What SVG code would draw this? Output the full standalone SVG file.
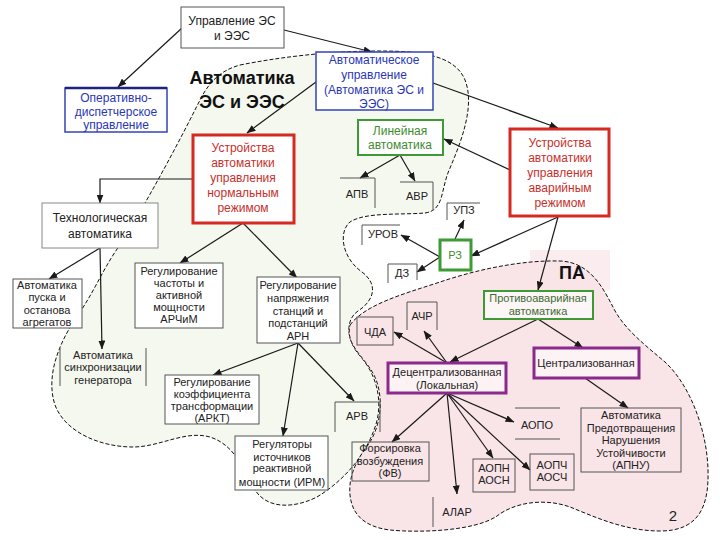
<svg xmlns="http://www.w3.org/2000/svg" width="720" height="540" viewBox="0 0 720 540">
<defs>
<marker id="ah" markerUnits="userSpaceOnUse" markerWidth="9" markerHeight="7" refX="8.5" refY="3.5" orient="auto"><path d="M0,0 L9,3.5 L0,7 z" fill="#1a1a1a"/></marker>
<style>
.t{font-family:"Liberation Sans",Arial,sans-serif;font-size:11px;fill:#222;text-anchor:middle}
.t12{font-size:12px}
.red{fill:#c8302c}.blue{fill:#2a36b8}.green{fill:#3d8b2f}.dgreen{fill:#3f6b35}
.ttl{font-family:"Liberation Sans",Arial,sans-serif;font-size:18px;font-weight:bold;fill:#111;text-anchor:middle}
.box{fill:#fff;stroke:#555;stroke-width:1}
.boxn{fill:none;stroke:#555;stroke-width:1}
.part{fill:none;stroke:#555;stroke-width:1}
.redbox{fill:#fff;stroke:#d42a22;stroke-width:3}
.bluebox{fill:#fff;stroke:#3343b5;stroke-width:1.5}
.greenbox{fill:#fff;stroke:#3d9a35;stroke-width:2}
.greenthick{fill:#fff;stroke:#3d9a35;stroke-width:3}
.purplebox{fill:#fdf3f5;stroke:#8a2a8a;stroke-width:3}
.blob{stroke:#111;stroke-width:1;stroke-dasharray:4 2}
.c{fill:none;stroke:#1a1a1a;stroke-width:1.2;marker-end:url(#ah)}
</style>
</defs>
<rect width="720" height="540" fill="#fff"/>
<g id="regions">
<rect x="530" y="250" width="80" height="40" fill="#fbecef"/>
<path id="blob-es" class="blob" fill="#f4f8ef" d="M240,65 C280,57 330,51 380,51 C420,51 455,55 465,80 C475,105 462,140 450,168 C440,190 445,210 425,213 C400,215 365,212 350,222 C338,232 342,258 362,272 C378,284 375,300 358,311 C345,320 346,340 360,356 C378,376 384,405 374,430 C365,455 345,480 317,497 C295,508 268,510 255,490 C244,470 235,445 210,437 C185,430 160,447 133,447 C100,447 65,432 55,405 C45,375 60,340 80,312 C95,290 105,265 120,245 C145,205 175,150 200,100 C210,80 222,70 240,65 Z"/>
<path id="blob-pa" class="blob" fill="#f9e4e8" d="M350,325 C365,305 400,295 437,283 C475,270 520,260 560,261 C590,262 603,288 613,307 C623,328 645,345 665,362 C690,385 707,430 708,470 C709,505 700,531 660,531 C625,531 595,517 570,507 C545,498 515,502 497,516 C475,531 420,533 390,530 C365,527 352,515 350,495 C348,475 358,458 368,445 C382,425 384,395 374,375 C364,356 345,345 350,325 Z"/>
</g>
<g id="connectors">
<path class="c" d="M182,28 L118,87"/>
<path class="c" d="M284,30 L372,52"/>
<path class="c" d="M433,83 L558,128"/>
<path class="c" d="M316,82 L247,133"/>
<path class="c" d="M510,170 L444,139"/>
<path class="c" d="M400,155 L360,178"/>
<path class="c" d="M400,155 L415,181"/>
<path class="c" d="M558,217 L471,256"/>
<path class="c" d="M558,217 L538,290"/>
<path class="c" d="M455,239 L464,220"/>
<path class="c" d="M440,257 L401,235"/>
<path class="c" d="M440,257 L417,272"/>
<path class="c" d="M193,179 H100 V203"/>
<path class="c" d="M243,223 L180,263"/>
<path class="c" d="M243,223 L297,278"/>
<path class="c" d="M100,248 L49,279"/>
<path class="c" d="M100,248 L102,349"/>
<path class="c" d="M298,343 L213,375"/>
<path class="c" d="M298,343 L283,436"/>
<path class="c" d="M298,343 L354,401"/>
<path class="c" d="M538,319 L450,362"/>
<path class="c" d="M538,319 L583,348"/>
<path class="c" d="M447,363 L394,332"/>
<path class="c" d="M447,363 L424,331"/>
<path class="c" d="M447,393 L392,442"/>
<path class="c" d="M447,393 L457,494"/>
<path class="c" d="M447,393 L493,458"/>
<path class="c" d="M447,393 L530,470"/>
<path class="c" d="M447,393 L514,422"/>
<path class="c" d="M585,378 L628,408"/>
</g>
<g id="title-es"><text class="ttl" x="242" y="84">Автоматика</text><text class="ttl" x="242" y="108">ЭС и ЭЭС</text></g>
<g id="title-pa"><text class="ttl" x="572" y="279">ПА</text></g>
<g id="n-upr"><rect class="box" x="181" y="7" width="103" height="41"/><text class="t t12" x="232" y="25">Управление ЭС</text><text class="t t12" x="232" y="40">и ЭЭС</text></g>
<g id="n-odu"><rect class="bluebox" x="65" y="88" width="102" height="44"/><path d="M65,88 H167" stroke="#1c2380" stroke-width="2.5"/><text class="t t12 blue" x="116" y="102">Оперативно-</text><text class="t t12 blue" x="116" y="116">диспетчерское</text><text class="t t12 blue" x="116" y="129">управление</text></g>
<g id="n-au"><rect class="bluebox" x="316" y="52" width="117" height="58"/><text class="t t12 blue" x="374" y="64">Автоматическое</text><text class="t t12 blue" x="374" y="79">управление</text><text class="t t12 blue" x="374" y="94">(Автоматика ЭС и</text><text class="t t12 blue" x="374" y="108">ЭЭС)</text></g>
<g id="n-norm"><rect class="redbox" x="193" y="135" width="101" height="88"/><text class="t t12 red" x="243" y="152">Устройства</text><text class="t t12 red" x="243" y="167">автоматики</text><text class="t t12 red" x="243" y="182">управления</text><text class="t t12 red" x="243" y="197">нормальным</text><text class="t t12 red" x="243" y="212">режимом</text></g>
<g id="n-lin"><rect class="greenbox" x="358" y="120" width="85" height="35"/><text class="t t12 green" x="400" y="135">Линейная</text><text class="t t12 green" x="400" y="149">автоматика</text></g>
<g id="n-avar"><rect class="redbox" x="510" y="129" width="99" height="87"/><text class="t t12 red" x="560" y="147">Устройства</text><text class="t t12 red" x="560" y="162">автоматики</text><text class="t t12 red" x="560" y="177">управления</text><text class="t t12 red" x="560" y="192">аварийным</text><text class="t t12 red" x="560" y="207">режимом</text></g>
<g id="n-apv"><path class="part" d="M340,178 H375 V208"/><text class="t" x="357" y="198">АПВ</text></g>
<g id="n-avr"><path class="part" d="M400,182 H433 V210"/><text class="t" x="417" y="200">АВР</text></g>
<g id="n-upz"><path class="part" d="M447,220 V203 H480"/><text class="t" x="464" y="214">УПЗ</text></g>
<g id="n-rz"><rect class="greenthick" x="440" y="240" width="31" height="30"/><text class="t green" x="455" y="259">РЗ</text></g>
<g id="n-urov"><path class="part" d="M362,245 V225 H400"/><text class="t" x="383" y="238">УРОВ</text></g>
<g id="n-dz"><path class="part" d="M388,283 V264 H417 V280"/><text class="t" x="402" y="277">ДЗ</text></g>
<g id="n-pa"><rect class="greenbox" x="484" y="291" width="109" height="28" style="fill:#fdf6f7"/><text class="t dgreen" x="538" y="302">Противоаварийная</text><text class="t dgreen" x="538" y="315">автоматика</text></g>
<g id="n-tech"><rect class="box" x="42" y="203" width="116" height="45" style="stroke:#888"/><text class="t t12" x="100" y="222">Технологическая</text><text class="t t12" x="100" y="238">автоматика</text></g>
<g id="n-pusk"><rect class="box" x="13" y="279" width="69" height="49"/><text class="t" x="47" y="289">Автоматика</text><text class="t" x="47" y="301">пуска и</text><text class="t" x="47" y="314">останова</text><text class="t" x="47" y="326">агрегатов</text></g>
<g id="n-sinh"><path class="part" d="M60,348 V386 M146,348 V386"/><text class="t" x="103" y="359">Автоматика</text><text class="t" x="103" y="371">синхронизации</text><text class="t" x="103" y="384">генератора</text></g>
<g id="n-arch"><rect class="box" x="135" y="263" width="88" height="65"/><text class="t" x="179" y="275">Регулирование</text><text class="t" x="179" y="287">частоты и</text><text class="t" x="179" y="299">активной</text><text class="t" x="179" y="311">мощности</text><text class="t" x="179" y="323">АРЧиМ</text></g>
<g id="n-arn"><rect class="box" x="257" y="277" width="83" height="66"/><text class="t" x="298" y="289">Регулирование</text><text class="t" x="298" y="302">напряжения</text><text class="t" x="298" y="315">станций и</text><text class="t" x="298" y="327">подстанций</text><text class="t" x="298" y="340">АРН</text></g>
<g id="n-arkt"><rect class="box" x="165" y="375" width="94" height="49"/><text class="t" x="212" y="386">Регулирование</text><text class="t" x="212" y="398">коэффициента</text><text class="t" x="212" y="410">трансформации</text><text class="t" x="212" y="422">(АРКТ)</text></g>
<g id="n-arv"><path class="part" d="M335,432 V402 H380 V432"/><text class="t" x="357" y="420">АРВ</text></g>
<g id="n-irm"><rect class="box" x="235" y="436" width="93" height="54"/><text class="t" x="282" y="448">Регуляторы</text><text class="t" x="282" y="461">источников</text><text class="t" x="282" y="472">реактивной</text><text class="t" x="282" y="486">мощности (ИРМ)</text></g>
<g id="n-chda"><rect class="boxn" x="357" y="317" width="36" height="28"/><text class="t" x="375" y="336">ЧДА</text></g>
<g id="n-achr"><path class="part" d="M407,330 V302 H437 V330"/><text class="t" x="422" y="320">АЧР</text></g>
<g id="n-dec"><rect class="purplebox" x="388" y="363" width="118" height="30"/><text class="t" x="447" y="376">Децентрализованная</text><text class="t" x="447" y="389">(Локальная)</text></g>
<g id="n-cen"><rect class="purplebox" x="534" y="348" width="105" height="30"/><text class="t" x="586" y="367">Централизованная</text></g>
<g id="n-aopo"><path class="part" d="M515,408 H560 M515,439 H560"/><text class="t" x="537" y="429">АОПО</text></g>
<g id="n-apnu"><rect class="boxn" x="581" y="408" width="100" height="64"/><text class="t" x="631" y="419">Автоматика</text><text class="t" x="631" y="432">Предотвращения</text><text class="t" x="631" y="444">Нарушения</text><text class="t" x="631" y="457">Устойчивости</text><text class="t" x="631" y="469">(АПНУ)</text></g>
<g id="n-fv"><rect class="boxn" x="352" y="442" width="77" height="39"/><text class="t" x="390" y="452">Форсировка</text><text class="t" x="390" y="465">возбуждения</text><text class="t" x="390" y="477">(ФВ)</text></g>
<g id="n-aopn"><rect class="boxn" x="473" y="459" width="42" height="33"/><text class="t" x="494" y="472">АОПН</text><text class="t" x="494" y="484">АОСН</text></g>
<g id="n-aopch"><rect class="boxn" x="530" y="454" width="44" height="36"/><text class="t" x="552" y="469">АОПЧ</text><text class="t" x="552" y="481">АОСЧ</text></g>
<g id="n-alar"><path class="part" d="M433,497 V527"/><text class="t" x="457" y="516">АЛАР</text></g>
<g id="page"><text class="t" x="673" y="521" style="font-size:15px">2</text></g>
</svg>
